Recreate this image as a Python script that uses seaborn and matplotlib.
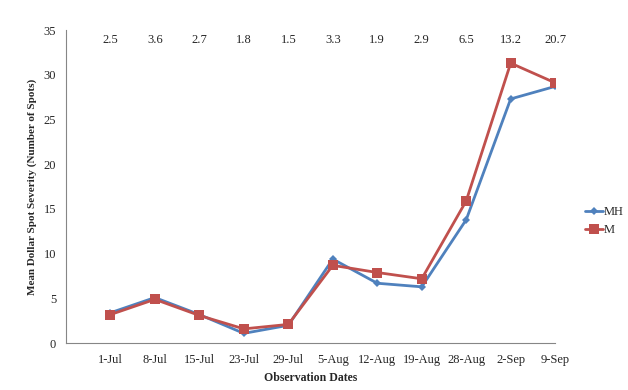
import numpy as np
import pandas as pd
import seaborn as sns
import matplotlib.pyplot as plt

dates = ['1-Jul', '8-Jul', '15-Jul', '23-Jul', '29-Jul', '5-Aug', '12-Aug',
         '19-Aug', '28-Aug', '2-Sep', '9-Sep']
mh = [3.4, 5.1, 3.2, 1.1, 2.0, 9.4, 6.7, 6.3, 13.8, 27.3, 28.7]
m = [3.2, 4.9, 3.1, 1.6, 2.1, 8.7, 7.9, 7.2, 15.9, 31.3, 29.1]
top_labels = ['2.5', '3.6', '2.7', '1.8', '1.5', '3.3', '1.9', '2.9', '6.5', '13.2', '20.7']

sns.set_style('white')
plt.rcParams['font.family'] = ['Liberation Serif', 'DejaVu Serif']

pos = np.arange(len(dates))

fig = plt.figure(figsize=(6.28, 3.9), dpi=100)
ax = fig.add_axes([0.105, 0.12, 0.779, 0.803])

# two series, different marker sizes like the excel original
sns.lineplot(x=pos, y=mh, color='#4F81BD', marker='D', markersize=4.5,
             markeredgewidth=0, linewidth=2, label='MH', ax=ax)
sns.lineplot(x=pos, y=m, color='#C0504D', marker='s', markersize=7,
             markeredgewidth=0, linewidth=2, label='M', ax=ax)

ax.set_xlim(-1, 10)
ax.set_ylim(0, 35)
ax.set_yticks(range(0, 36, 5))
ax.set_xticks(pos)
ax.set_xticklabels(dates)
ax.tick_params(axis='both', labelsize=9, direction='out', length=4,
               color='#868686', width=0.8, pad=3)
ax.tick_params(axis='x', pad=4)

for s in ['top', 'right']:
    ax.spines[s].set_visible(False)
for s in ['left', 'bottom']:
    ax.spines[s].set_color('#868686')
    ax.spines[s].set_linewidth(0.8)

for p, t in zip(pos, top_labels):
    ax.text(p, 33.9, t, ha='center', va='center', fontsize=9)

ax.set_xlabel('Observation Dates', fontsize=8.5, fontweight='bold', labelpad=4)
ax.set_ylabel('Mean Dollar Spot Severity (Number of Spots)', fontsize=8,
              fontweight='bold', labelpad=5)

ax.legend(loc='center left', bbox_to_anchor=(1.05, 0.39), frameon=False,
          fontsize=9, handlelength=1.5, handletextpad=0.05, labelspacing=0.45,
          borderaxespad=0)

fig.savefig('out.png', dpi=100)
